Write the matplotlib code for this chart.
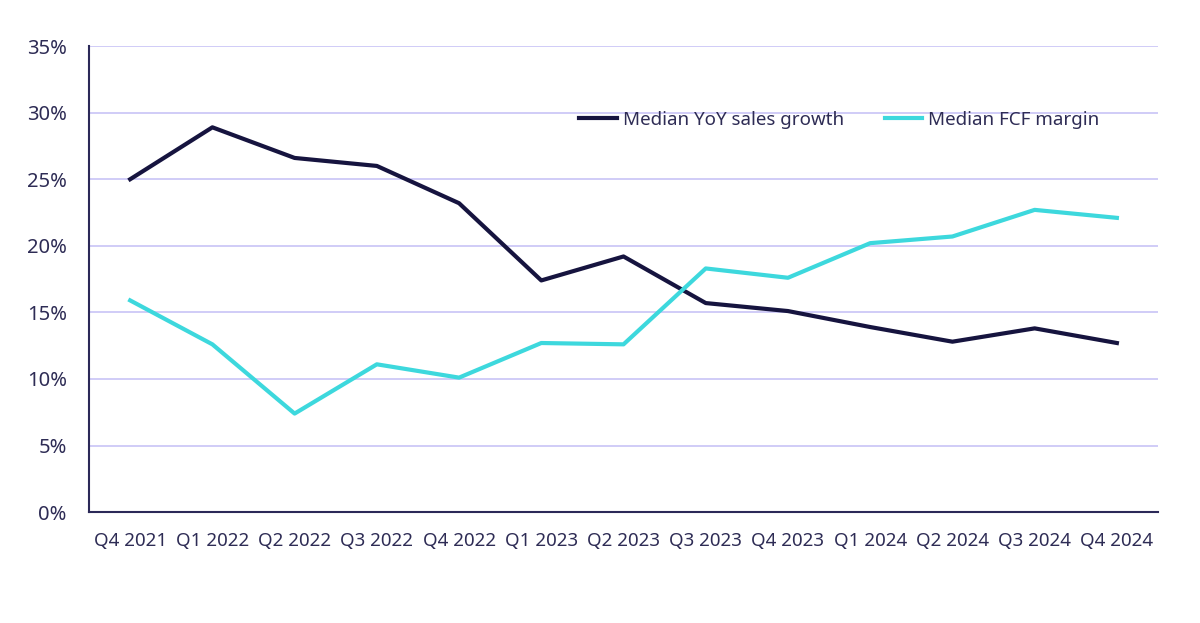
import matplotlib
matplotlib.use("Agg")
import matplotlib.pyplot as plt
from matplotlib.ticker import FuncFormatter

quarters = ["Q4 2021", "Q1 2022", "Q2 2022", "Q3 2022", "Q4 2022", "Q1 2023", "Q2 2023",
            "Q3 2023", "Q4 2023", "Q1 2024", "Q2 2024", "Q3 2024", "Q4 2024"]
sales_growth = [25.0, 28.9, 26.6, 26.0, 23.2, 17.4, 19.2, 15.7, 15.1, 13.9, 12.8, 13.8, 12.7]
fcf_margin = [15.9, 12.6, 7.4, 11.1, 10.1, 12.7, 12.6, 18.3, 17.6, 20.2, 20.7, 22.7, 22.1]
y_ticks = [0, 5, 10, 15, 20, 25, 30, 35]

navy = "#16143f"
cyan = "#3dd8dd"
grid = "#cdc8f7"
text_c = "#2e2c55"

plt.rcParams['font.family'] = ['Noto Sans', 'DejaVu Sans']

fig = plt.figure(figsize=(12, 6.23), dpi=100)
ax = fig.add_axes([0.0742, 0.178, 0.8908, 0.748])

x = list(range(len(quarters)))
ax.plot(x, sales_growth, color=navy, lw=3, label="Median YoY sales growth", zorder=3)
ax.plot(x, fcf_margin, color=cyan, lw=3, label="Median FCF margin", zorder=3)

ax.set_xlim(-0.5, len(quarters) - 0.5)
ax.set_ylim(0, 35)
ax.set_yticks(y_ticks)
ax.yaxis.set_major_formatter(FuncFormatter(lambda v, p: f"{v:.0f}%"))
ax.set_xticks(x)
ax.set_xticklabels(quarters)

ax.grid(axis='y', color=grid, lw=1.3, zorder=0)
ax.set_axisbelow(True)
for s in ["top", "right"]:
    ax.spines[s].set_visible(False)
for s in ["left", "bottom"]:
    ax.spines[s].set_color("#2b2958")
    ax.spines[s].set_linewidth(1.5)
ax.tick_params(axis='both', length=0, colors=text_c)
ax.tick_params(axis='y', pad=16, labelsize=14.5)
ax.tick_params(axis='x', pad=14, labelsize=13.5)

leg = ax.legend(loc='upper left', bbox_to_anchor=(0.443, 0.897), ncol=2, frameon=False,
                fontsize=13.5, handlelength=2.0, handletextpad=0.3, columnspacing=2.2)
for t in leg.get_texts():
    t.set_color(text_c)

fig.savefig("out.png", dpi=100, facecolor="white")
